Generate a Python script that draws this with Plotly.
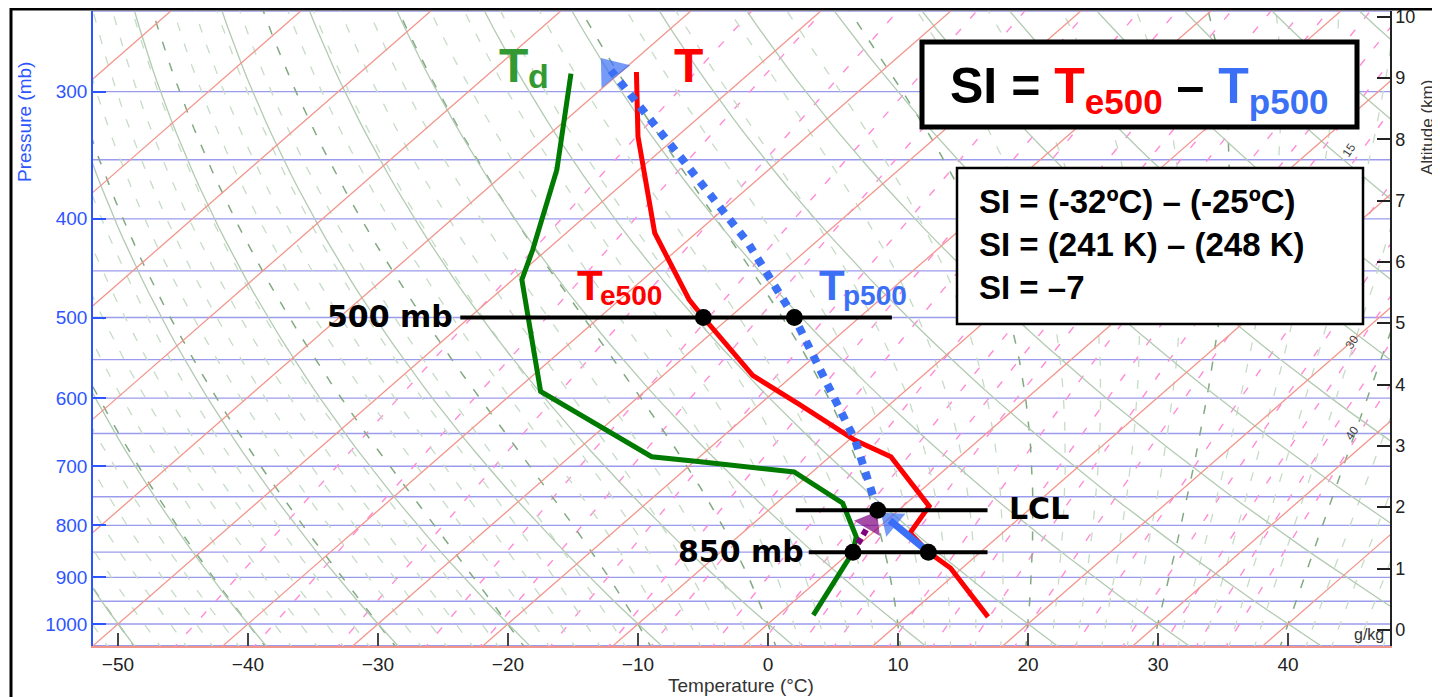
import numpy as np
import plotly.graph_objects as go

# ---------------- sounding data (pressure in mb, temperature in deg C) ----------------
env_p = [287, 332, 413, 480, 500, 570, 609, 660, 685, 766, 814, 850, 881, 984]
env_T = [-58.8, -53.0, -43.2, -34.7, -32.0, -23.1, -16.9, -9.5, -5.3, 2.0, 2.9, 6.0, 9.1, 16.3]

dew_p = [288, 358, 429, 459, 591, 638, 685, 693, 709, 761, 821, 850, 980]
dew_T = [-63.7, -56.3, -51.1, -49.3, -38.0, -30.5, -23.7, -19.5, -11.4, -4.9, -0.9, 0.2, 2.7]

# lifted parcel: dry ascent 850 -> LCL, then moist ascent
dry_p = [850, 773]
dry_T = [6.0, -1.6]
moist_p = [773, 660, 500, 422, 350, 286]
moist_T = [-1.6, -9.5, -25.0, -35.2, -47.5, -60.9]
# dewpoint path from 850 mb to LCL
dpath_p = [850, 773]
dpath_T = [0.2, -1.6]

# highlighted points: Te500, Tp500, LCL, Td850, T850
key_p = [500, 500, 773, 850, 850]
key_T = [-32.0, -25.0, -1.6, 0.2, 6.0]

# guide levels (500 mb, LCL, 850 mb)
guide_p = [500, 773, 850]

# axis ticks
press_ticks = [300, 400, 500, 600, 700, 800, 900, 1000]
temp_ticks = [-50, -40, -30, -20, -10, 0, 10, 20, 30, 40]
alt_ticks = [0, 1, 2, 3, 4, 5, 6, 7, 8, 9, 10]

# background diagram families
isobar_levels = list(range(250, 1051, 50))
isotherm_levels = list(range(-150, 60, 10))
dry_theta_levels = list(range(-60, 141, 10))
moist_thw_levels = list(range(-60, 52, 2))
mixr_levels = [0.05, 0.1, 0.2, 0.4, 0.6, 1, 1.5, 2, 3, 4, 5, 6, 8, 10, 12, 15,
               20, 25, 30, 35, 40]
mixr_label_text = ["15", "30", "40"]

# ---------------- geometry / style ----------------
SKEW = 39.0
P_BOT, P_TOP = 1051.0, 250.0
X_MIN, X_MAX = -51.92, 47.85
H_SCALE = 7.21
OFF = 8                       # page body margin
W, H = 1440 - OFF, 697 - OFF
ML, MR, MT, MB = 93 - OFF, 50, 11 - OFF, 51
PW, PH = W - ML - MR, H - MT - MB
PLOT_LEFT, PLOT_BOTTOM = 93, 646   # in page pixels


def skew_x(T, p):
    return np.asarray(T, float) + SKEW * np.log(1000.0 / np.asarray(p, float))


def px(x):
    return (x - PLOT_LEFT) / PW


def py(y):
    return (PLOT_BOTTOM - y) / PH


fig = go.Figure()


def add_family(xlist, plist, color, width, dash="solid"):
    xs, ys = [], []
    for X, P in zip(xlist, plist):
        xs.extend([float(v) for v in X] + [None])
        ys.extend([float(v) for v in P] + [None])
    fig.add_trace(go.Scatter(x=xs, y=ys, mode="lines", hoverinfo="skip", showlegend=False,
                             line=dict(color=color, width=width, dash=dash)))


pfull = np.exp(np.linspace(np.log(P_BOT + 10), np.log(P_TOP - 5), 50))

# isobars
add_family([[-80, 80] for _ in isobar_levels], [[p, p] for p in isobar_levels],
           "rgb(155,155,238)", 1.4)


# mixing ratio lines (pink dashed)
def td_from_e(e):
    L = np.log(e / 6.112)
    tw = 243.5 * L / (17.67 - L)
    ti = 272.62 * L / (22.46 - L)
    return np.where(tw < 0, ti, tw)


mx, mp = [], []
for w in mixr_levels:
    e = w * pfull / (622.0 + w)
    mx.append(skew_x(td_from_e(e), pfull))
    mp.append(pfull)
add_family(mx, mp, "rgb(255,140,215)", 1.4, "8px,14px")

# moist adiabats (light and dark dashed)
Rd, cpd, Lv = 287.04, 1005.7, 2.501e6


def dTdp(T, p):
    Tk = T + 273.15
    es = 6.112 * np.exp(17.67 * T / (T + 243.5))
    r = 0.622 * es / (p - es)
    return (Rd * Tk + Lv * r) / (p * (cpd + Lv * Lv * r * 0.622 / (Rd * Tk * Tk)))


def integrate(T0, pgrid):
    out = [T0]
    T = T0
    for i in range(len(pgrid) - 1):
        p0, p1 = pgrid[i], pgrid[i + 1]
        h = p1 - p0
        k1 = dTdp(T, p0)
        k2 = dTdp(T + 0.5 * h * k1, p0 + 0.5 * h)
        k3 = dTdp(T + 0.5 * h * k2, p0 + 0.5 * h)
        k4 = dTdp(T + h * k3, p1)
        T = T + h * (k1 + 2 * k2 + 2 * k3 + k4) / 6.0
        out.append(T)
    return np.array(out)


p_up = np.exp(np.linspace(np.log(1000), np.log(P_TOP - 5), 60))
p_dn = np.exp(np.linspace(np.log(1000), np.log(P_BOT + 10), 5))
lx, lp, dx, dp = [], [], [], []
for thw in moist_thw_levels:
    tu = integrate(float(thw), p_up)
    td = integrate(float(thw), p_dn)
    P = np.concatenate([p_dn[::-1], p_up[1:]])
    Tm = np.concatenate([td[::-1], tu[1:]])
    if thw % 10 == 0:
        dx.append(skew_x(Tm, P)); dp.append(P)
    else:
        lx.append(skew_x(Tm, P)); lp.append(P)
add_family(lx, lp, "rgb(198,220,198)", 1.3, "9px,13px")
add_family(dx, dp, "rgb(130,170,130)", 1.5, "9px,13px")

# dry adiabats
ax_, ap_ = [], []
for th in dry_theta_levels:
    T = (th + 273.15) * (pfull / 1000.0) ** 0.2857 - 273.15
    ax_.append(skew_x(T, pfull)); ap_.append(pfull)
add_family(ax_, ap_, "rgb(178,202,178)", 1.3)

# isotherms
add_family([skew_x([t, t], [P_BOT + 10, P_TOP - 5]) for t in isotherm_levels],
           [[P_BOT + 10, P_TOP - 5] for _ in isotherm_levels], "rgb(242,150,140)", 1.3)

# ---------------- sounding traces ----------------
GREEN = "rgb(0,122,0)"
RED = "rgb(255,0,0)"
BLUE = "rgb(59,111,245)"
PURPLE = "rgb(128,0,128)"

fig.add_trace(go.Scatter(x=skew_x(dew_T, dew_p), y=dew_p, mode="lines", showlegend=False,
                         hoverinfo="skip", line=dict(color=GREEN, width=5)))
fig.add_trace(go.Scatter(x=skew_x(env_T, env_p), y=env_p, mode="lines", showlegend=False,
                         hoverinfo="skip", line=dict(color=RED, width=5)))

# guide lines
lcl_x = float(skew_x(dry_T[-1], dry_p[-1]))
guide_left = [float(skew_x(key_T[0], 500)) - 18.7, lcl_x - 6.3, float(skew_x(key_T[3], 850)) - 3.4]
guide_right = [float(skew_x(key_T[1], 500)) + 7.5, lcl_x + 8.45, lcl_x + 8.45]
gx, gy = [], []
for p, a, b in zip(guide_p, guide_left, guide_right):
    gx += [a, b, None]
    gy += [p, p, None]
fig.add_trace(go.Scatter(x=gx, y=gy, mode="lines", showlegend=False, hoverinfo="skip",
                         line=dict(color="black", width=4)))


def interp_pt(T0, p0, T1, p1, f):
    x0, x1 = float(skew_x(T0, p0)), float(skew_x(T1, p1))
    l0, l1 = np.log(p0), np.log(p1)
    return x0 + f * (x1 - x0), float(np.exp(l0 + f * (l1 - l0)))


# moist ascent: dotted blue with arrowhead
mxs = skew_x(moist_T, moist_p)
fig.add_trace(go.Scatter(x=mxs, y=moist_p, mode="lines", showlegend=False, hoverinfo="skip",
                         line=dict(color=BLUE, width=8, dash="8px,8px")))
fig.add_trace(go.Scatter(x=[mxs[-2], mxs[-1]], y=[moist_p[-2], moist_p[-1]], mode="markers",
                         showlegend=False, hoverinfo="skip",
                         marker=dict(symbol="triangle-up", size=[0, 32], color=BLUE,
                                     angleref="previous", line=dict(width=0))))

# dry ascent: solid blue arrow 850 -> LCL
ex, ep = interp_pt(dry_T[0], dry_p[0], dry_T[1], dry_p[1], 0.76)
hx, hp = interp_pt(dry_T[0], dry_p[0], dry_T[1], dry_p[1], 0.74)
x850 = float(skew_x(dry_T[0], dry_p[0]))
fig.add_trace(go.Scatter(x=[x850, ex], y=[dry_p[0], ep], mode="lines",
                         showlegend=False, hoverinfo="skip", line=dict(color=BLUE, width=7)))
fig.add_trace(go.Scatter(x=[x850, hx], y=[dry_p[0], hp], mode="markers",
                         showlegend=False, hoverinfo="skip",
                         marker=dict(symbol="triangle-up", size=[0, 26], color=BLUE,
                                     angleref="previous", line=dict(width=0))))

# dewpoint path: purple dashed arrow 850 -> LCL
ex, ep = interp_pt(dpath_T[0], dpath_p[0], dpath_T[1], dpath_p[1], 0.62)
hx, hp = interp_pt(dpath_T[0], dpath_p[0], dpath_T[1], dpath_p[1], 0.70)
xd850 = float(skew_x(dpath_T[0], dpath_p[0]))
fig.add_trace(go.Scatter(x=[xd850, ex], y=[dpath_p[0], ep], mode="lines",
                         showlegend=False, hoverinfo="skip",
                         line=dict(color=PURPLE, width=6, dash="6px,4px")))
fig.add_trace(go.Scatter(x=[xd850, hx], y=[dpath_p[0], hp], mode="markers",
                         showlegend=False, hoverinfo="skip",
                         marker=dict(symbol="triangle-up", size=[0, 26], color=PURPLE,
                                     angleref="previous", line=dict(width=0))))

# key points
fig.add_trace(go.Scatter(x=skew_x(key_T, key_p), y=key_p, mode="markers", showlegend=False,
                         hoverinfo="skip", marker=dict(color="black", size=17)))

# altitude axis helper trace (invisible)
z_bot = H_SCALE * np.log(1013.25 / P_BOT)
z_top = H_SCALE * np.log(1013.25 / P_TOP)
fig.add_trace(go.Scatter(x=[0], y=[5], yaxis="y2", mode="markers", showlegend=False,
                         hoverinfo="skip", marker=dict(size=1, opacity=0)))

# ---------------- layout ----------------
SANS = "Liberation Sans, Arial, Helvetica, sans-serif"
COMIC = "DejaVu Sans, Verdana, sans-serif"
TICKBLUE = "rgb(45,85,255)"

fig.update_layout(
    width=W, height=H, margin=dict(l=ML, r=MR, t=MT, b=MB, autoexpand=False),
    paper_bgcolor="white", plot_bgcolor="white", hovermode=False,
    xaxis=dict(range=[X_MIN, X_MAX], tickvals=temp_ticks, ticks="inside", ticklen=13,
               tickwidth=1.5, tickcolor="#444", showgrid=False, zeroline=False,
               showline=True, linecolor="rgb(242,150,140)", linewidth=1.5,
               tickfont=dict(family=SANS, size=19, color="#222")),
    yaxis=dict(type="log", range=[np.log10(P_BOT), np.log10(P_TOP)], tickvals=press_ticks,
               ticktext=[str(v) for v in press_ticks], ticks="inside", ticklen=13,
               tickwidth=1.5, tickcolor=TICKBLUE, showgrid=False, zeroline=False,
               showline=True, linecolor=TICKBLUE, linewidth=1.5,
               tickfont=dict(family=SANS, size=19, color=TICKBLUE)),
    yaxis2=dict(overlaying="y", side="right", range=[z_bot, z_top], tickvals=alt_ticks,
                ticks="inside", ticklen=13, tickwidth=1.5, tickcolor="#222",
                showgrid=False, zeroline=False, showline=True, linecolor="#222",
                linewidth=1.5, ticklabeloverflow="allow",
                tickfont=dict(family=SANS, size=18, color="#222")),
)

shapes = [
    dict(type="rect", xref="paper", yref="paper", x0=px(11), x1=px(1452), y0=py(712), y1=py(9),
         line=dict(color="black", width=3), fillcolor="rgba(0,0,0,0)", layer="above"),
    dict(type="rect", xref="paper", yref="paper", x0=px(922), x1=px(1357), y0=py(127), y1=py(42),
         line=dict(color="black", width=5), fillcolor="white", layer="above"),
    dict(type="rect", xref="paper", yref="paper", x0=px(957), x1=px(1363), y0=py(324), y1=py(168),
         line=dict(color="black", width=2.5), fillcolor="white", layer="above"),
]
fig.update_layout(shapes=shapes)

ann = []


def text(x, y, s, size, color, family=SANS, xanchor="left", yanchor="middle", angle=0,
         weight="bold", align="left"):
    ann.append(dict(x=px(x), y=py(y), xref="paper", yref="paper", text=s, showarrow=False,
                    xanchor=xanchor, yanchor=yanchor, textangle=angle, align=align,
                    font=dict(family=family, size=size, color=color, weight=weight)))


# curve labels
text(497, 65, "T", 48, "rgb(51,153,51)")
text(526, 76, "d", 34, "rgb(51,153,51)")
text(672, 65, "T", 48, RED)
text(575, 285, "T", 42, RED)
text(598, 295, "e500", 28, RED)
text(817, 285, "T", 42, BLUE)
text(841, 295, "p500", 28, BLUE)

# level labels
text(455, 316, "500 mb", 30, "black", family=COMIC, xanchor="right")
text(806, 551, "850 mb", 30, "black", family=COMIC, xanchor="right")
text(1007, 508, "LCL", 30, "black", family=COMIC)

# SI boxes
text(1139.5, 90,
     "SI = <span style='color:rgb(255,0,0)'>T<sub>e500</sub></span> \u2013 "
     "<span style='color:rgb(59,111,245)'>T<sub>p500</sub></span>",
     50, "black", xanchor="center")
text(977, 245,
     "SI = (-32\u00baC) \u2013 (-25\u00baC)<br>SI = (241 K) \u2013 (248 K)<br>SI = \u20137",
     33, "black")

# mixing ratio labels
for s, (x, y) in zip(mixr_label_text, [(1349, 150), (1352, 342), (1352, 433)]):
    text(x, y, s, 12, "#444", xanchor="center", angle=-56, weight="normal")
text(1386, 634, "g/kg", 16, "#333", xanchor="right", weight="normal")

# axis titles
text(25, 122, "Pressure (mb)", 19, TICKBLUE, xanchor="center", angle=-90, weight="normal")
text(1428, 128, "Altitude (km)", 17, "#333", xanchor="center", angle=-90, weight="normal")
text(741, 686, "Temperature (\u00b0C)", 19, "#333", xanchor="center", weight="normal")

fig.update_layout(annotations=ann)

fig.write_html("out.html")
